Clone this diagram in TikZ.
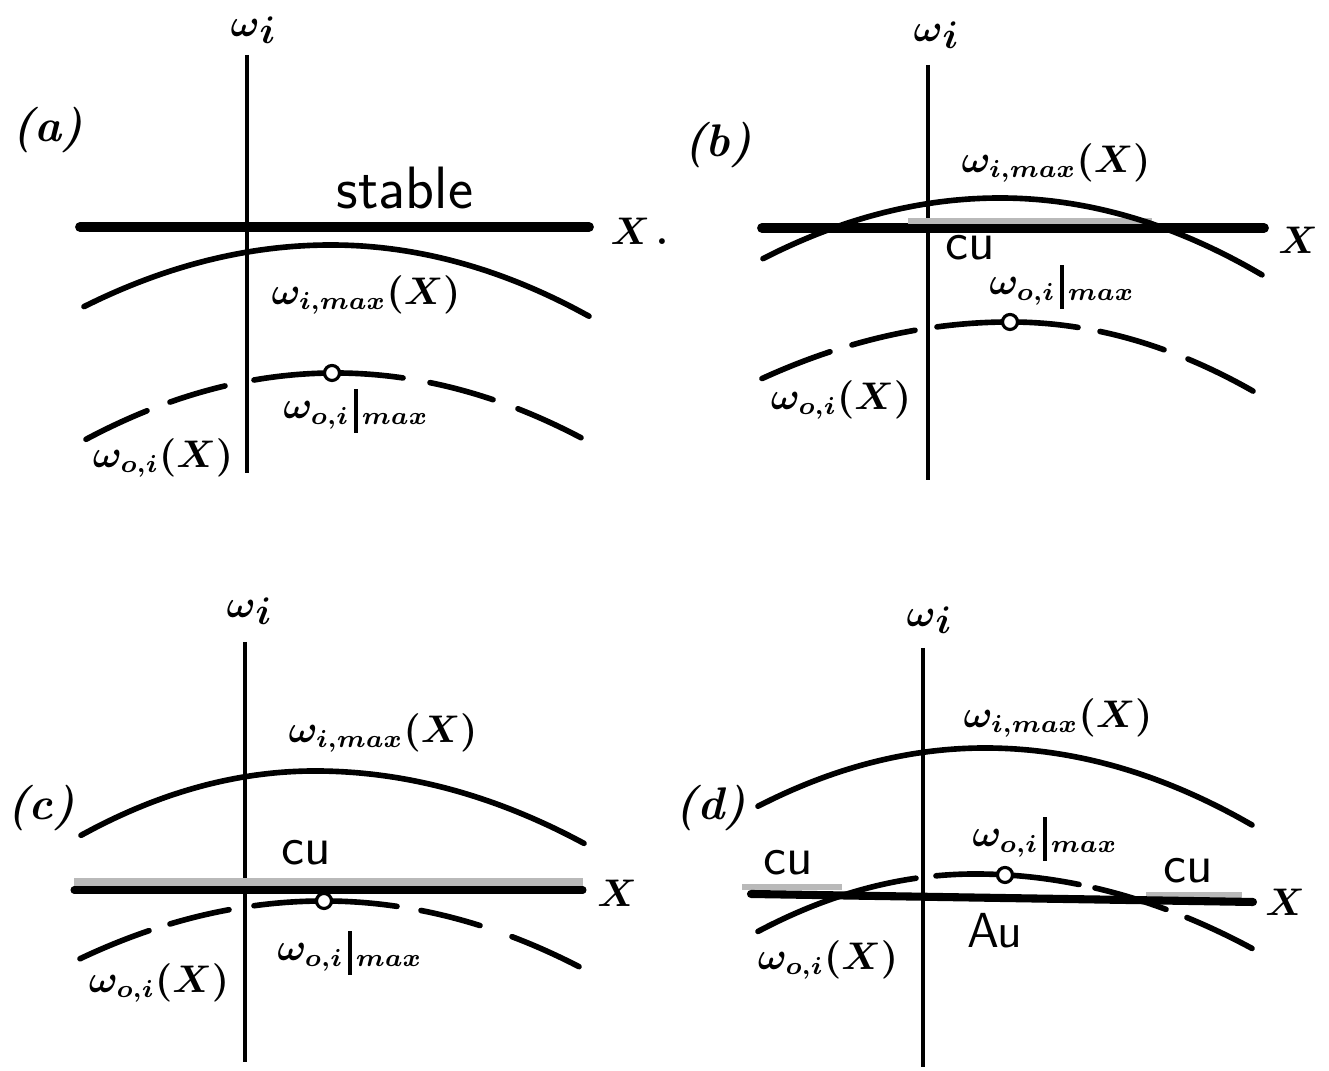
\documentclass[tikz,border=0pt]{standalone}
\usepackage{bm}
\tikzset{
  curve/.style={line width=1.6pt, line cap=round},
  vaxis/.style={line width=1.1pt},
  thickaxis/.style={line width=2.8pt, line cap=round},
  haxis/.style={line width=2.1pt, line cap=round},
  band/.style={line width=1.5pt, draw=gray!55},
  odot/.style={circle, draw, fill=white, line width=0.9pt, inner sep=0pt, minimum size=0.15cm},
  lab/.style={inner sep=0pt, font=\fontsize{10.6}{12}\selectfont},
  plab/.style={inner sep=0pt, font=\fontsize{13}{15}\selectfont\bfseries\itshape},
  hand/.style={inner sep=0pt, font=\fontsize{15}{17}\selectfont\sffamily},
}
% quadratic piece: from a to b, vertex (h,v), curvature left KL, right KR
\newcommand{\qpiece}[6]{\draw[curve] plot[domain=#1:#2, samples=30, smooth] (\x,{#4+ifthenelse(\x<#3,#5,#6)*((\x-#3)/100)^2});}
\newcommand{\wmaxlab}{$\bm{\omega_{i,max}(X)}$}
\newcommand{\wolab}{$\bm{\omega_{o,i}(X)}$}
\newcommand{\womlab}{$\bm{\omega_{o,i}}\smash{\mkern2mu\rule[-0.9ex]{1.1pt}{2.7ex}\mkern2mu}\bm{_{max}}$}
\newcommand{\wilab}{$\bm{\omega}\lower2pt\hbox{$\bm{i}$}$}
\begin{document}
\begin{tikzpicture}[x=0.01cm,y=-0.01cm]
\useasboundingbox[fill=white] (0,0) rectangle (1329,1071);

% ---------------- panel (a)
\draw[vaxis] (247,55) -- (247,473);
\draw[thickaxis] (80,227) -- (589,227);
\qpiece{84}{589}{331}{245}{10.1}{10.7}
\qpiece{86}{147}{335}{373}{10.7}{10.7}
\qpiece{170}{225}{335}{373}{10.7}{10.7}
\qpiece{254}{403}{335}{373}{10.7}{10.7}
\qpiece{430}{493}{335}{373}{10.7}{10.7}
\qpiece{518}{581}{335}{373}{10.7}{10.7}
\node[odot] (ca) at (332,373) {};
\node[lab] (awi) at (253,30) {\wilab};
\node[plab] (alab) at (48,130) {(a)};
\node[hand, font=\fontsize{17}{19}\selectfont\sffamily] (astable) at (405,188) {stable};
\node[lab, anchor=west] (ax) at (610,231) {$\bm{X}$\,\textbf{.}};
\node[lab] (awmax) at (366,295) {\wmaxlab};
\node[lab] (awom) at (356,415) {\womlab};
\node[lab] (awo) at (163,458) {\wolab};

% ---------------- panel (b)
\draw[vaxis] (928,65) -- (928,480);
\draw[thickaxis] (762,228) -- (1264,228);
\draw[band] (908,221) -- (1152,221);
\qpiece{763}{1262}{1000}{198}{10.8}{11.2}
\qpiece{762}{830}{1010}{322}{9.2}{11.7}
\qpiece{852}{915}{1010}{322}{9.2}{11.7}
\qpiece{937}{1078}{1010}{322}{9.2}{11.7}
\qpiece{1100}{1164}{1010}{322}{9.2}{11.7}
\qpiece{1188}{1253}{1010}{322}{9.2}{11.7}
\node[odot] (cb) at (1010,322) {};
\node[lab] (bwi) at (936,35) {\wilab};
\node[plab] (blab) at (718,145) {(b)};
\node[lab] (bx) at (1298,240) {$\bm{X}$};
\node[lab] (bwmax) at (1056,163) {\wmaxlab};
\node[hand] (bcu) at (970,248) {cu};
\node[lab] (bwom) at (1062,291) {\womlab};
\node[lab] (bwo) at (841,400) {\wolab};

% ---------------- panel (c)
\draw[vaxis] (245,642) -- (245,1062);
\draw[band, line width=2pt] (74,882) -- (583,882);
\draw[haxis, line width=2pt] (74,890) -- (583,890);
\qpiece{81}{584}{315}{771}{11.75}{10}
\qpiece{80}{149}{324}{901}{9.7}{10.1}
\qpiece{170}{229}{324}{901}{9.7}{10.1}
\qpiece{254}{397}{324}{901}{9.7}{10.1}
\qpiece{421}{480}{324}{901}{9.7}{10.1}
\qpiece{512}{579}{324}{901}{9.7}{10.1}
\node[odot] (cc) at (324,901) {};
\node[lab] (cwi) at (249,611) {\wilab};
\node[plab] (clab) at (41,808) {(c)};
\node[lab] (cwmax) at (383,733) {\wmaxlab};
\node[hand] (ccu) at (306,853) {cu};
\node[lab] (cx) at (617,893) {$\bm{X}$};
\node[lab] (cwom) at (350,957) {\womlab};
\node[lab] (cwo) at (159,983) {\wolab};

% ---------------- panel (d)
\draw[vaxis] (923,648) -- (923,1067);
\draw[band] (742,887) -- (842,887);
\draw[band] (1146,895) -- (1242,895);
\draw[haxis, line width=2.3pt] (751,894) -- (1253,902);
\qpiece{758}{1252}{985}{748}{11.3}{10.8}
\qpiece{758}{916}{975}{874}{12.2}{9.7}
\qpiece{936}{1079}{975}{874}{12.2}{9.7}
\qpiece{1095}{1166}{975}{874}{12.2}{9.7}
\qpiece{1187}{1252}{975}{874}{12.2}{9.7}
\node[odot] (cd) at (1005,875) {};
\node[lab] (dwi) at (929,620) {\wilab};
\node[plab] (dlab) at (711,808) {(d)};
\node[lab] (dwmax) at (1058,718) {\wmaxlab};
\node[lab] (dwom) at (1045,843) {\womlab};
\node[hand] (dcu1) at (788,863) {cu};
\node[hand] (dcu2) at (1188,871) {cu};
\node[hand, font=\fontsize{14}{16}\selectfont\sffamily] (dau) at (995,931) {Au};
\node[lab] (dx) at (1285,902) {$\bm{X}$};
\node[lab] (dwo) at (828,960) {\wolab};
\end{tikzpicture}
\end{document}
